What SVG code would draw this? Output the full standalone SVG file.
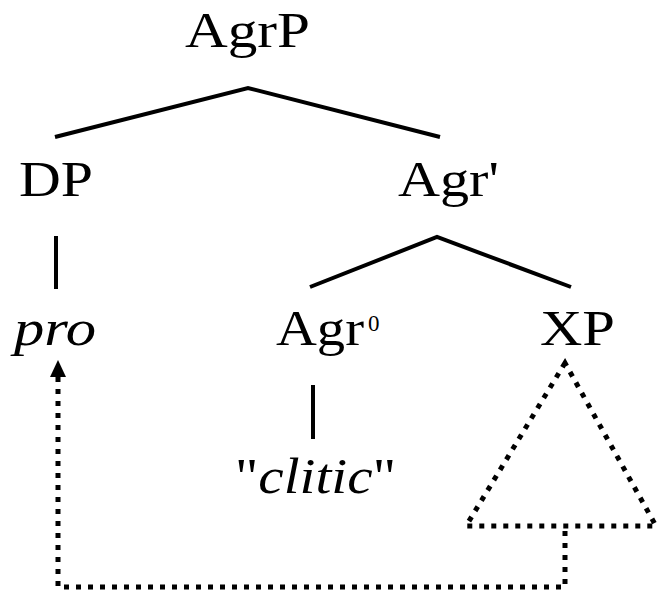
<svg xmlns="http://www.w3.org/2000/svg" width="658" height="593" viewBox="0 0 658 593">
<style>
.t{font-family:'Liberation Serif',Tinos,'Times New Roman',Times,'Nimbus Roman','Noto Serif',serif;font-size:50px;fill:#000}
.i{font-style:italic}
.sup{font-size:23px}
.edge{stroke:#000;stroke-width:4;fill:none;stroke-linecap:butt}
.dot{stroke:#000;stroke-width:5;fill:none;stroke-dasharray:5 7}
</style>
<rect width="658" height="593" fill="#fff"/>
<g id="connectors">
<polyline class="edge" points="55,137 248,88 440,137"/>
<line class="edge" x1="56" y1="236" x2="56" y2="289"/>
<polyline class="edge" points="310,287 437,237 571,287"/>
<line class="edge" x1="313" y1="385" x2="313" y2="439"/>
<polygon class="dot" points="565,363 466,526 656,526"/>
<polyline class="dot" points="565,531 565,587 58,587 58,376"/>
<polygon points="58,360 50,377 66,377" fill="#000"/>
</g>
<g id="AgrP"><text class="t" x="185" y="47" textLength="125" lengthAdjust="spacingAndGlyphs">AgrP</text></g>
<g id="DP"><text class="t" x="19" y="196" textLength="74" lengthAdjust="spacingAndGlyphs">DP</text></g>
<g id="AgrBar"><text class="t" x="398" y="196" textLength="101" lengthAdjust="spacingAndGlyphs">Agr'</text></g>
<g id="pro"><text class="t i" x="14" y="345" textLength="82" lengthAdjust="spacingAndGlyphs">pro</text></g>
<g id="Agr0"><text class="t" x="276" y="345" textLength="88" lengthAdjust="spacingAndGlyphs">Agr</text><text class="t sup" x="368" y="331">0</text></g>
<g id="XP"><text class="t" x="540" y="345" textLength="75" lengthAdjust="spacingAndGlyphs">XP</text></g>
<g id="clitic"><text class="t" x="235" y="493" textLength="161" lengthAdjust="spacingAndGlyphs">"<tspan class="i">clitic</tspan>"</text></g>
</svg>
